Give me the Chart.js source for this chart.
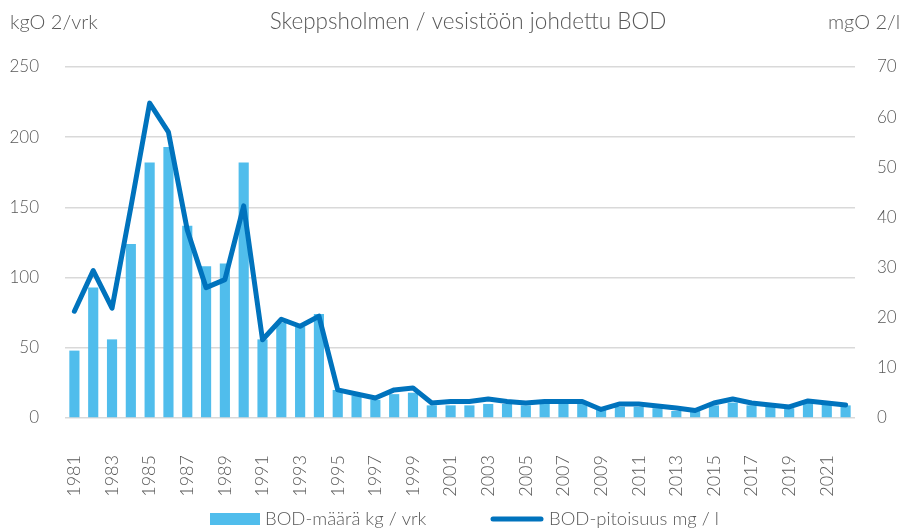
<!DOCTYPE html>
<html>
<head>
<meta charset="utf-8">
<script src="https://cdn.jsdelivr.net/npm/chart.js@4/dist/chart.umd.min.js"></script>
<style>
  html, body { margin: 0; padding: 0; background: #fff; }
  #wrap { width: 907px; height: 530px; }
</style>
</head>
<body>
<div id="wrap"><canvas id="bodChart" width="907" height="530"></canvas></div>
<script>
// Skeppsholmen – vesistöön johdettu BOD

const years = [
  '1981','1982','1983','1984','1985','1986','1987','1988','1989','1990',
  '1991','1992','1993','1994','1995','1996','1997','1998','1999','2000',
  '2001','2002','2003','2004','2005','2006','2007','2008','2009','2010',
  '2011','2012','2013','2014','2015','2016','2017','2018','2019','2020',
  '2021','2022'
];

// BOD-määrä kg / vrk (vasen akseli)
const bodLoad = [
  48, 93, 56, 124, 182, 193, 137, 108, 110, 182,
  56, 68, 65, 74, 20, 16, 13, 17, 18, 9,
  9, 9, 10, 10, 9, 11, 11, 10, 7, 8,
  8, 7, 5, 5, 9, 11, 9, 8, 7, 11,
  10, 9
];

// BOD-pitoisuus mg / l (oikea akseli)
const bodConc = [
  21.3, 29.4, 21.9, 42.0, 62.8, 57.0, 37.5, 26.0, 27.6, 42.3,
  15.6, 19.7, 18.3, 20.3, 5.6, 4.8, 4.0, 5.6, 6.0, 3.0,
  3.3, 3.3, 3.8, 3.3, 3.0, 3.3, 3.3, 3.3, 1.7, 2.8,
  2.8, 2.4, 2.0, 1.5, 3.0, 3.8, 3.0, 2.6, 2.2, 3.4,
  3.0, 2.6
];

const leftTicks = [0, 50, 100, 150, 200, 250];
const rightTicks = [0, 10, 20, 30, 40, 50, 60, 70];

const chartTitle = 'Skeppsholmen / vesistöön johdettu BOD';
const leftUnit = 'kgO 2/vrk';
const rightUnit = 'mgO 2/l';
const loadLabel = 'BOD-määrä kg / vrk';
const concLabel = 'BOD-pitoisuus mg / l';

const barColor = '#50bdec';
const lineColor = '#0073bd';
const textColor = '#595959';
const gridColor = '#d9d9d9';
const fontFamily = "Lato, 'Open Sans', sans-serif";

// title, unit captions and the legend row
const decorations = {
  id: 'decorations',
  afterDraw(chart) {
    const ctx = chart.ctx;
    ctx.save();
    ctx.fillStyle = textColor;
    ctx.textBaseline = 'middle';

    ctx.font = '300 22.5px ' + fontFamily;
    ctx.textAlign = 'center';
    ctx.fillText(chartTitle, 468, 22);

    ctx.font = '300 20px ' + fontFamily;
    ctx.textAlign = 'left';
    ctx.fillText(leftUnit, 10, 23);
    ctx.fillText(rightUnit, 828, 23);

    // legend
    const ly = 519;
    ctx.font = '300 18.5px ' + fontFamily;
    ctx.fillStyle = barColor;
    ctx.fillRect(210, ly - 6, 50, 12);
    ctx.fillStyle = textColor;
    ctx.fillText(loadLabel, 265, ly);

    ctx.strokeStyle = lineColor;
    ctx.lineWidth = 5;
    ctx.lineCap = 'round';
    ctx.beginPath();
    ctx.moveTo(493, ly);
    ctx.lineTo(541, ly);
    ctx.stroke();
    ctx.fillText(concLabel, 549, ly);
    ctx.restore();
  }
};

new Chart(document.getElementById('bodChart'), {
  type: 'bar',
  data: {
    labels: years,
    datasets: [
      {
        type: 'bar',
        label: loadLabel,
        data: bodLoad,
        backgroundColor: barColor,
        borderWidth: 0,
        categoryPercentage: 1.0,
        barPercentage: 0.54,
        yAxisID: 'y',
        order: 2
      },
      {
        type: 'line',
        label: concLabel,
        data: bodConc,
        borderColor: lineColor,
        backgroundColor: lineColor,
        borderWidth: 5,
        borderJoinStyle: 'round',
        borderCapStyle: 'round',
        pointRadius: 0,
        tension: 0,
        fill: false,
        yAxisID: 'y1',
        order: 1
      }
    ]
  },
  options: {
    responsive: false,
    animation: false,
    layout: { padding: { top: 67, left: 9, right: 9, bottom: 30 } },
    plugins: {
      legend: { display: false },
      title: { display: false },
      tooltip: { enabled: false }
    },
    scales: {
      x: {
        grid: { display: false, drawTicks: false },
        border: { display: false },
        afterFit: (axis) => { axis.height = 82; },
        ticks: {
          color: textColor,
          font: { family: fontFamily, size: 18, weight: '300' },
          minRotation: 90,
          maxRotation: 90,
          autoSkip: false,
          padding: 37,
          callback: function(value, index) {
            return index % 2 === 0 ? this.getLabelForValue(value) : '';
          }
        }
      },
      y: {
        position: 'left',
        min: leftTicks[0],
        max: leftTicks[leftTicks.length - 1],
        afterBuildTicks: (axis) => { axis.ticks = leftTicks.map(v => ({ value: v })); },
        afterFit: (axis) => { axis.width = 56; },
        grid: { color: gridColor, lineWidth: 1.5, drawTicks: false },
        border: { display: false },
        ticks: {
          color: textColor,
          font: { family: fontFamily, size: 17, weight: '300' },
          padding: 26
        }
      },
      y1: {
        position: 'right',
        min: rightTicks[0],
        max: rightTicks[rightTicks.length - 1],
        afterBuildTicks: (axis) => { axis.ticks = rightTicks.map(v => ({ value: v })); },
        afterFit: (axis) => { axis.width = 43; },
        grid: { display: false, drawTicks: false },
        border: { display: false },
        ticks: {
          color: textColor,
          font: { family: fontFamily, size: 17, weight: '300' },
          padding: 22
        }
      }
    }
  },
  plugins: [decorations]
});
</script>
</body>
</html>
